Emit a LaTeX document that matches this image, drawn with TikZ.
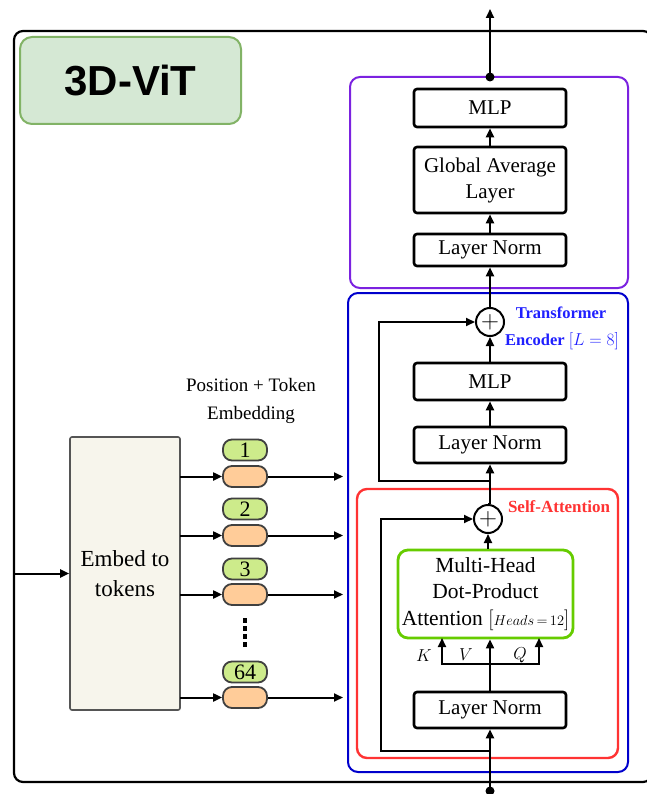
\documentclass[tikz,border=0pt]{standalone}
\usepackage{fontspec}
\setmainfont{Liberation Serif}
\newfontfamily\arialfont{Liberation Sans}
\usetikzlibrary{arrows.meta}
\definecolor{titlefill}{HTML}{D5E8D4}
\definecolor{titledraw}{HTML}{82B366}
\definecolor{purp}{HTML}{7B22E0}
\definecolor{encblue}{HTML}{0000CC}
\definecolor{txtblue}{HTML}{1F1FFF}
\definecolor{sared}{HTML}{FF3333}
\definecolor{mhagreen}{HTML}{66CC00}
\definecolor{embfill}{HTML}{F7F5EC}
\definecolor{embdraw}{HTML}{555555}
\definecolor{pillgreen}{HTML}{CDEB8B}
\definecolor{pillorange}{HTML}{FFCC99}
\begin{document}
\begin{tikzpicture}[x=1pt,y=-1pt,
  arr/.style={-{Triangle[length=9pt,width=8pt]}, line width=2pt},
  ln/.style={line width=2pt},
  blk/.style={draw, line width=2.6pt, rounded corners=3pt, minimum width=152pt, inner sep=0pt, align=center, font=\rmfamily\fontsize{21}{26}\selectfont},
  grp/.style={draw, line width=2pt, rounded corners=10pt, inner sep=0pt},
  pill/.style={draw=black!75, line width=1.8pt, rounded corners=9pt, minimum width=44pt, minimum height=21pt, inner sep=0pt, font=\rmfamily\fontsize{22}{22}\selectfont},
  plusc/.style={draw, circle, line width=2pt, minimum size=28pt, inner sep=0pt, font=\fontsize{24}{24}\selectfont},
  lbl/.style={inner sep=0pt, font=\rmfamily\fontsize{17}{17}\selectfont},
  dotsq/.style={fill, minimum width=4.5pt, minimum height=5pt, inner sep=0pt},
]
\useasboundingbox (0,0) rectangle (646,794);
\fill[white] (0,0) rectangle (646,794);

% outer frame
\node[draw, line width=2.2pt, rounded corners=9pt, minimum width=638pt, minimum height=751pt, inner sep=0pt] (frame) at (333,406.5) {};

% title
\node[draw=titledraw, fill=titlefill, line width=2pt, rounded corners=12pt, minimum width=221pt, minimum height=87pt, inner sep=0pt, font=\arialfont\bfseries\fontsize{42}{42}\selectfont] (title) at (130.5,80.5) {3D-ViT};

% group boxes
\node[grp, draw=purp, minimum width=278pt, minimum height=211pt] (head) at (489,182.5) {};
\node[grp, draw=encblue, minimum width=280pt, minimum height=479pt] (enc) at (488,532.5) {};
\node[grp, draw=sared, line width=2.4pt, minimum width=261pt, minimum height=269pt] (sa) at (487.5,623.5) {};

% head blocks
\node[blk, minimum height=38pt] (mlptop) at (490,108) {MLP};
\node[blk, minimum height=66pt] (gal) at (490,180) {Global Average\\Layer};
\node[blk, minimum height=32pt] (lntop) at (490,250) {Layer Norm};

% encoder blocks
\node[plusc] (plus1) at (490,322) {$+$};
\node[blk, minimum height=37pt] (mlpmid) at (490,381.5) {MLP};
\node[blk, minimum height=36pt] (lnmid) at (490,445) {Layer Norm};
\node[plusc] (plus2) at (488,519) {$+$};
\node[draw=mhagreen, line width=2.8pt, rounded corners=10pt, minimum width=175pt, minimum height=88pt, inner sep=0pt, align=center, font=\rmfamily\fontsize{21.5}{26.5}\selectfont] (mha) at (485.5,594) {Multi-Head\\Dot-Product\\Attention $\bigl[{\scriptstyle Heads\,=\,12}\bigr]$};
\node[blk, minimum height=36pt] (lnbot) at (490,710) {Layer Norm};

% labels
\node[lbl, text=txtblue, font=\rmfamily\bfseries\fontsize{16.5}{16.5}\selectfont] (tlab1) at (561,313) {Transformer};
\node[lbl, text=txtblue, font=\rmfamily\bfseries\fontsize{16.5}{16.5}\selectfont] (tlab2) at (562,341) {Encoder $[L=8]$};
\node[lbl, text=sared, font=\rmfamily\bfseries\fontsize{17}{17}\selectfont] (salab) at (559,507) {Self-Attention};
\node[lbl] (klab) at (424,656) {$K$};
\node[lbl] (vlab) at (466,655) {$V$};
\node[lbl] (qlab) at (520,655) {$Q$};

% coordinates
\coordinate (out) at (490,9);
\coordinate (topdot) at (490,77);
\coordinate (indot) at (490,791);
\coordinate (r1a) at (490,481);
\coordinate (r1b) at (379,481);
\coordinate (r2a) at (490,751);
\coordinate (r2b) at (381,751);
\coordinate (split) at (490,664);
\coordinate (kend) at (442,638);
\coordinate (qend) at (539,638);

% head connectors
\fill (topdot) circle (4.5pt);
\draw[arr] (topdot) -- (out);
\draw[arr] (lntop.north) -- (gal.south);
\draw[arr] (gal.north) -- (mlptop.south);
\draw[arr] (plus1.north) -- (lntop.south);

% encoder connectors
\draw[arr] (mlpmid.north) -- (plus1.south);
\draw[arr] (lnmid.north) -- (mlpmid.south);
\draw[arr] (plus2.north -| lnmid.south) -- (lnmid.south);
\draw[ln] (plus2.north) -- (plus2.north -| lnmid.south);
\draw[arr] (r1a) -- (r1b) |- (plus1.west);
\draw[arr] (r2a) -- (r2b) |- (plus2.west);
\draw[arr] (mha.north -| plus2.south) -- (plus2.south);
\draw[arr] (lnbot.north) -- (mha.south -| lnbot.north);
\draw[arr] (split) -| (kend);
\draw[arr] (split) -| (qend);
\fill (indot) circle (4.5pt);
\draw[arr] (indot) -- (lnbot.south);

% embedding side
\node[draw=embdraw, fill=embfill, line width=1.6pt, rounded corners=2pt, minimum width=110pt, minimum height=273pt, inner sep=0pt, align=center, font=\rmfamily\fontsize{23}{30}\selectfont] (embed) at (125,573.5) {Embed to\\tokens};
\coordinate (inL) at (14,573.5);
\draw[arr] (inL) -- (embed.west);

\node[lbl, align=center, font=\rmfamily\fontsize{19}{28}\selectfont] (poslab) at (251,401) {Position + Token\\Embedding};

\foreach \i/\num/\gy/\oy in {1/1/450/476.5, 2/2/509/535.5, 3/3/569/594.5, 4/64/672/697.5} {
  \node[pill, fill=pillgreen] (g\i) at (245,\gy) {\num};
  \node[pill, fill=pillorange] (o\i) at (245,\oy) {};
  \coordinate (e\i) at (180,\oy);
  \coordinate (t\i) at (343,\oy);
  \draw[arr] (e\i) -- (o\i.west);
  \draw[arr] (o\i.east) -- (t\i);
}
\foreach \k/\yy in {1/620.5, 2/628.5, 3/636.5, 4/644.5} {
  \node[dotsq] (d\k) at (245,\yy) {};
}
\end{tikzpicture}
\end{document}
